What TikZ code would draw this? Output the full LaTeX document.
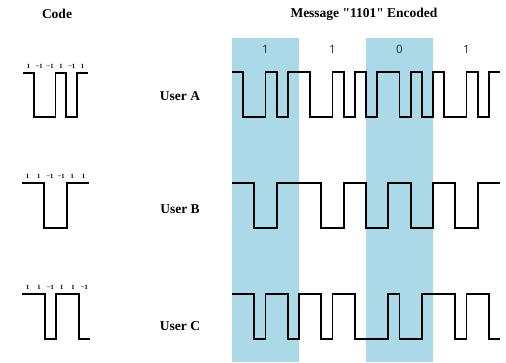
\documentclass[tikz,border=0pt]{standalone}
\usepackage{fontspec}
\setmainfont{Liberation Serif}[Ligatures=TeXOff]
\newfontfamily\bitfont{Noto Sans}
\definecolor{bandblue}{RGB}{172,217,231}
\tikzset{
  wave/.style={line width=1.8pt, black, line join=miter},
  codewave/.style={line width=1.8pt, black, line join=miter},
  title/.style={font=\bfseries\fontsize{13.5}{15}\selectfont, inner sep=0pt},
  user/.style={font=\bfseries\fontsize{13.5}{15}\selectfont, inner sep=0pt},
  bit/.style={font=\bitfont\fontsize{11.5}{13}\selectfont, text=black!80, inner sep=0pt},
  chiplab/.style={font=\bfseries\fontsize{6.5}{7}\selectfont, inner sep=0pt, anchor=base},
}
\begin{document}
\begin{tikzpicture}[x=1pt,y=-1pt]
\useasboundingbox (0,0) rectangle (506,362);
% bands
\fill[bandblue] (232,38) rectangle (299,362);
\fill[bandblue] (366,38) rectangle (433,362);
% titles
\node[title] (tcode) at (57,14) {Code};
\node[title] (tmsg) at (364,14) {Message "1101" Encoded};
% bits
\node[bit] (b1) at (265.5,49) {1};
\node[bit] (b2) at (332.5,49) {1};
\node[bit] (b3) at (399.5,49) {0};
\node[bit] (b4) at (466.5,49) {1};
% user labels
\node[user] (ua) at (180,96) {User A};
\node[user] (ub) at (180,209) {User B};
\node[user] (uc) at (180,326) {User C};
% code waveforms
\def\wA{10.83}
\draw[codewave] (23,73) \foreach \c [count=\i] in {1,-1,-1,1,-1,1} { |- ({23+\i*\wA},{95-22*\c}) };
\foreach \t [count=\i] in {1,−1,−1,1,−1,1} \node[chiplab] (ca\i) at ({23+(\i-0.5)*\wA},68) {\t};
\def\wB{11.17}
\draw[codewave] (22,183) \foreach \c [count=\i] in {1,1,-1,-1,1,1} { |- ({22+\i*\wB},{205.5-22.5*\c}) };
\foreach \t [count=\i] in {1,1,−1,−1,1,1} \node[chiplab] (cb\i) at ({22+(\i-0.5)*\wB},178) {\t};
\def\wC{11.33}
\draw[codewave] (22,294) \foreach \c [count=\i] in {1,1,-1,1,1,-1} { |- ({22+\i*\wC},{316.5-22.5*\c}) };
\foreach \t [count=\i] in {1,1,−1,1,1,−1} \node[chiplab] (cc\i) at ({22+(\i-0.5)*\wC},289) {\t};
% encoded waveforms
\def\w{11.1667}
\draw[wave] (232,72) \foreach \c [count=\i] in {1,-1,-1,1,-1,1, 1,-1,-1,1,-1,1, -1,1,1,-1,1,-1, 1,-1,-1,1,-1,1} { |- ({232+\i*\w},{94.5-22.5*\c}) };
\draw[wave] (232,183) \foreach \c [count=\i] in {1,1,-1,-1,1,1, 1,1,-1,-1,1,1, -1,-1,1,1,-1,-1, 1,1,-1,-1,1,1} { |- ({232+\i*\w},{205.5-22.5*\c}) };
\draw[wave] (232,294) \foreach \c [count=\i] in {1,1,-1,1,1,-1, 1,1,-1,1,1,-1, -1,-1,1,-1,-1,1, 1,1,-1,1,1,-1} { |- ({232+\i*\w},{316.5-22.5*\c}) };
\end{tikzpicture}
\end{document}
